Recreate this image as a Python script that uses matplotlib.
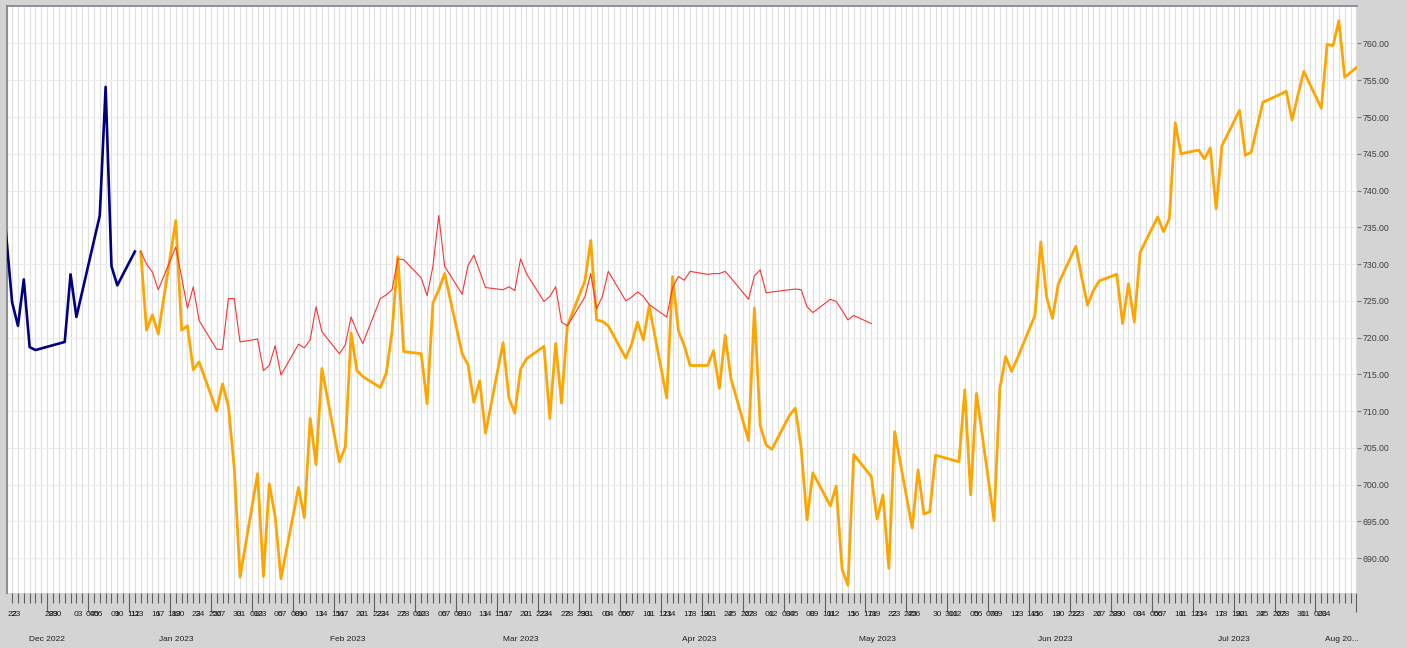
import pandas as pd
import matplotlib
matplotlib.use("Agg")
import matplotlib.pyplot as plt
import matplotlib.dates as mdates
from matplotlib.ticker import FixedLocator, FormatStrFormatter, NullFormatter

# history (navy)
hist_dates = pd.to_datetime([
    "2022-12-16", "2022-12-19", "2022-12-20", "2022-12-21", "2022-12-22", "2022-12-23",
    "2022-12-28", "2022-12-29", "2022-12-30", "2023-01-03", "2023-01-04", "2023-01-05",
    "2023-01-06", "2023-01-09"])
hist_vals = [751.6, 724.8, 721.6, 727.9, 718.7, 718.3,
             719.4, 728.6, 722.8, 736.6, 754.1, 729.7,
             727.1, 731.7]

# actual (orange), business days from Jan 10, no point on May 29
act_dates = pd.bdate_range("2023-01-10", "2023-08-07").drop(pd.Timestamp("2023-05-29"))
act_vals = [
    731.7, 721.0, 723.1, 720.5,
    735.9, 721.0, 721.6, 715.6, 716.7,
    710.0, 713.7, 710.7, 702.3, 687.4,
    701.5, 687.5, 700.1, 695.7, 687.2,
    699.6, 695.5, 709.0, 702.7, 715.8,
    703.1, 705.1, 720.6, 715.5, 714.7,
    713.2, 715.1, 720.8, 731.0, 718.1,
    717.8, 711.0, 724.7, 726.5, 728.7,
    717.8, 716.3, 711.2, 714.1, 707.0,
    719.3, 711.8, 709.7, 715.7, 717.1,
    718.8, 709.0, 719.2, 711.1, 721.6,
    727.7, 733.2, 722.4, 722.2, 721.6,
    717.2, 719.1, 722.1, 719.7, 724.3,
    711.8, 728.3, 720.9, 718.9, 716.2,
    716.2, 718.2, 713.1, 720.3, 714.4,
    706.0, 724.0, 708.0, 705.4, 704.8,
    709.4, 710.4, 705.0, 695.2, 701.6,
    697.1, 699.8, 688.5, 686.3, 704.1,
    701.1, 695.3, 698.6, 688.6, 707.2,
    694.1, 702.0, 696.0, 696.3, 704.0,
    703.1, 712.9, 698.6, 712.4,
    695.1, 713.1, 717.4, 715.4, 717.2,
    723.0, 733.0, 725.5, 722.6, 727.3,
    732.4, 728.2, 724.4, 726.4, 727.7,
    728.6, 721.9, 727.3, 722.1, 731.6,
    736.4, 734.4, 736.2, 749.2, 745.0,
    745.5, 744.3, 745.8, 737.5, 746.1,
    750.9, 744.8, 745.2, 748.6, 752.0,
    753.1, 753.5, 749.6, 753.0, 756.2,
    751.2, 759.9, 759.7, 763.1, 755.4,
    757.4]

# forecast (red), same dates as the first points of the actual series
fc_vals = [
    731.7, 730.0, 728.9, 726.5,
    732.3, 728.2, 724.0, 726.9, 722.3,
    718.4, 718.4, 725.3, 725.3, 719.4,
    719.8, 715.5, 716.2, 718.9, 714.9,
    719.1, 718.6, 719.7, 724.2, 720.8,
    717.8, 719.0, 722.8, 720.8, 719.2,
    725.3, 725.8, 726.5, 730.7, 730.6,
    728.1, 725.7, 729.7, 736.6, 729.7,
    725.9, 729.8, 731.2, 729.0, 726.8,
    726.5, 726.9, 726.4, 730.7, 728.7,
    724.9, 725.6, 726.9, 722.1, 721.6,
    725.5, 728.7, 723.9, 725.6, 729.0,
    725.0, 725.5, 726.2, 725.6, 724.5,
    722.8, 726.8, 728.3, 727.8, 729.0,
    728.6, 728.7, 728.7, 729.0, 728.1,
    725.2, 728.4, 729.2, 726.1, 726.2,
    726.5, 726.6, 726.5, 724.2, 723.4,
    725.2, 724.9, 723.7, 722.4, 723.0,
    721.9]
fc_dates = act_dates[:len(fc_vals)]

y_ticks = [690, 695, 700, 705, 710, 715, 720, 725, 730, 735, 740, 745, 750, 755, 760]

month_names = ["Dec 2022", "Jan 2023", "Feb 2023", "Mar 2023", "Apr 2023",
               "May 2023", "Jun 2023", "Jul 2023", "Aug 20..."]
month_starts = pd.to_datetime(["2022-12-01", "2023-01-01", "2023-02-01", "2023-03-01",
                               "2023-04-01", "2023-05-01", "2023-06-01", "2023-07-01",
                               "2023-08-01"])

x_lo = pd.Timestamp("2022-12-18 03:00")
x_hi = pd.Timestamp("2023-08-06 02:30")

fig = plt.figure(figsize=(14.07, 6.48), dpi=100, facecolor="#d4d4d4")
ax = fig.add_axes([7 / 1407, 55 / 648, 1350 / 1407, 587 / 648])
ax.set_facecolor("white")

ax.plot(hist_dates, hist_vals, color="#000080", lw=1.9, zorder=3)
ax.plot(act_dates, act_vals, color="#ffa500", lw=2.0, zorder=3)
ax.plot(fc_dates, fc_vals, color="#ff3030", lw=0.8, zorder=4)

ax.set_xlim(x_lo, x_hi)
ax.set_ylim(685.25, 765.1)

# axes
ax.xaxis.set_major_locator(mdates.WeekdayLocator(byweekday=mdates.SU))
ax.xaxis.set_minor_locator(mdates.DayLocator())
ax.xaxis.set_major_formatter(NullFormatter())
ax.tick_params(axis="x", which="major", length=14, width=0.8, color="#606060")
ax.tick_params(axis="x", which="minor", length=7, width=0.8, color="#606060")

ax.yaxis.tick_right()
ax.yaxis.set_major_locator(FixedLocator(y_ticks))
ax.yaxis.set_major_formatter(FormatStrFormatter("%.2f"))
ax.tick_params(axis="y", length=3, width=0.8, color="#808080", labelsize=6.3,
               labelcolor="#404040", pad=1)
for lab in ax.get_yticklabels():
    lab.set_fontfamily("Liberation Sans")

ax.grid(axis="x", which="both", color="#dedede", lw=0.8, zorder=0)
ax.grid(axis="y", which="major", color="#ececec", lw=0.8, zorder=0)
ax.set_axisbelow(True)

ax.spines["top"].set_color("#7a8290")
ax.spines["top"].set_linewidth(1.2)
ax.spines["left"].set_color("#909090")
ax.spines["left"].set_linewidth(1.5)
ax.spines["right"].set_visible(False)
ax.spines["bottom"].set_visible(False)

# day labels: the source chart crams each week into a Mon/Tue pair and a Wed-Fri cluster
tr = ax.get_xaxis_transform()
week_shift = [-3.42, -2.74, -0.60, 0.09, 0.77]   # days from that week's Monday
label_days = list(hist_dates[1:]) + list(act_dates[:-1])
for d in label_days:
    monday = d - pd.Timedelta(days=d.weekday())
    pos = monday + pd.Timedelta(days=week_shift[d.weekday()])
    if pos < x_lo + pd.Timedelta(days=0.5):
        continue
    ax.text(pos, -0.036, f"{d.day:02d}", transform=tr,
            ha="center", va="center", fontsize=6, color="#202020",
            family="Liberation Sans", clip_on=False)

# month labels
for i, name in enumerate(month_names):
    start = x_lo.normalize() + pd.Timedelta(days=1) if i == 0 else month_starts[i]
    if i + 1 < len(month_starts):
        end = month_starts[i + 1] - pd.Timedelta(days=1)
    else:
        end = x_hi
    mid = start + (end - start) / 2
    ax.text(mid, -0.08, name, transform=tr, ha="center", va="center",
            fontsize=6, color="#202020", family="Liberation Sans", clip_on=False)

fig.savefig("out.png", dpi=100, facecolor=fig.get_facecolor())
